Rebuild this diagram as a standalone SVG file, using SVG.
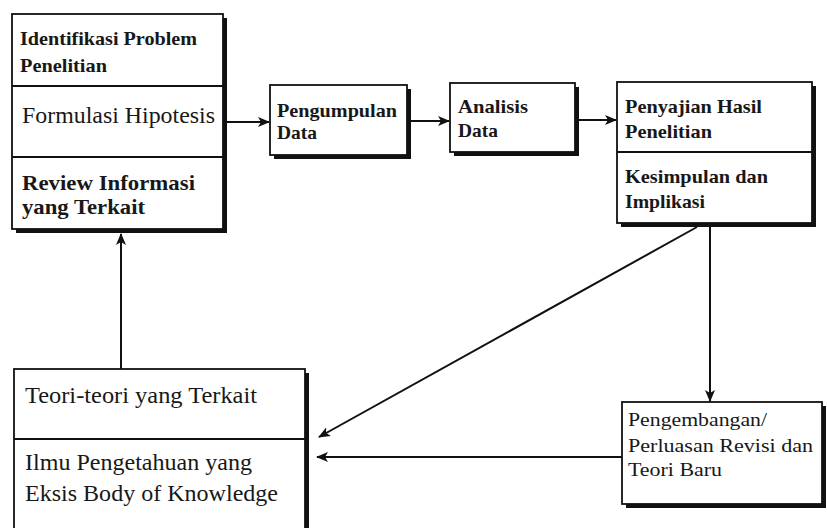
<svg xmlns="http://www.w3.org/2000/svg" width="827" height="528" viewBox="0 0 827 528">
<defs>
<style>
.shadow{fill:#111;}
.box{fill:#fff;stroke:#111;stroke-width:1.8;}
.div{stroke:#111;stroke-width:1.8;}
.conn{stroke:#111;stroke-width:2;fill:none;}
text{font-family:"Liberation Serif","Times New Roman",serif;fill:#181818;}
.b{font-weight:bold;}
</style>
<marker id="ah" viewBox="0 0 12 10" refX="11" refY="5" markerWidth="12" markerHeight="10" markerUnits="userSpaceOnUse" orient="auto">
<path d="M0,0 L12,5 L0,10 L3,5 Z" fill="#111"/>
</marker>
</defs>
<rect width="827" height="528" fill="#fff"/>

<g id="node-research-steps">
<rect class="shadow" x="16" y="18" width="211" height="215"/>
<rect class="box" x="12" y="14" width="211" height="215"/>
<line class="div" x1="12" y1="86" x2="223" y2="86"/>
<line class="div" x1="12" y1="157" x2="223" y2="157"/>
<text class="b" x="20" y="45" font-size="19" textLength="177" lengthAdjust="spacingAndGlyphs">Identifikasi Problem</text>
<text class="b" x="20" y="72" font-size="19" textLength="87" lengthAdjust="spacingAndGlyphs">Penelitian</text>
<text x="22" y="123" font-size="23" textLength="193" lengthAdjust="spacingAndGlyphs">Formulasi Hipotesis</text>
<text class="b" x="22" y="190" font-size="22" textLength="173" lengthAdjust="spacingAndGlyphs">Review Informasi</text>
<text class="b" x="22" y="214" font-size="22" textLength="123" lengthAdjust="spacingAndGlyphs">yang Terkait</text>
</g>

<g id="node-pengumpulan">
<rect class="shadow" x="274" y="89" width="137" height="70"/>
<rect class="box" x="270" y="85" width="137" height="70"/>
<text class="b" x="277" y="117" font-size="19" textLength="120" lengthAdjust="spacingAndGlyphs">Pengumpulan</text>
<text class="b" x="277" y="139" font-size="19" textLength="40" lengthAdjust="spacingAndGlyphs">Data</text>
</g>

<g id="node-analisis">
<rect class="shadow" x="454" y="87" width="125" height="69"/>
<rect class="box" x="450" y="83" width="125" height="69"/>
<text class="b" x="458" y="113" font-size="19" textLength="70" lengthAdjust="spacingAndGlyphs">Analisis</text>
<text class="b" x="458" y="137" font-size="19" textLength="40" lengthAdjust="spacingAndGlyphs">Data</text>
</g>

<g id="node-penyajian">
<rect class="shadow" x="621" y="86" width="195" height="141"/>
<rect class="box" x="617" y="82" width="195" height="141"/>
<line class="div" x1="617" y1="152" x2="812" y2="152"/>
<text class="b" x="625" y="113" font-size="19" textLength="137" lengthAdjust="spacingAndGlyphs">Penyajian Hasil</text>
<text class="b" x="625" y="138" font-size="19" textLength="87" lengthAdjust="spacingAndGlyphs">Penelitian</text>
<text class="b" x="625" y="183" font-size="19" textLength="143" lengthAdjust="spacingAndGlyphs">Kesimpulan dan</text>
<text class="b" x="625" y="208" font-size="19" textLength="80" lengthAdjust="spacingAndGlyphs">Implikasi</text>
</g>

<g id="node-pengembangan">
<rect class="shadow" x="626" y="406" width="200" height="102"/>
<rect class="box" x="622" y="402" width="200" height="102"/>
<text x="628" y="426" font-size="18" textLength="139" lengthAdjust="spacingAndGlyphs">Pengembangan/</text>
<text x="628" y="452" font-size="18" textLength="185" lengthAdjust="spacingAndGlyphs">Perluasan Revisi dan</text>
<text x="628" y="476" font-size="18" textLength="94" lengthAdjust="spacingAndGlyphs">Teori Baru</text>
</g>

<g id="node-teori">
<rect class="shadow" x="18" y="373" width="291" height="170"/>
<rect class="box" x="14" y="369" width="291" height="170"/>
<line class="div" x1="14" y1="439" x2="305" y2="439"/>
<text x="25" y="403" font-size="23" textLength="232" lengthAdjust="spacingAndGlyphs">Teori-teori yang Terkait</text>
<text x="25" y="470" font-size="23" textLength="227" lengthAdjust="spacingAndGlyphs">Ilmu Pengetahuan yang</text>
<text x="25" y="501" font-size="23" textLength="253" lengthAdjust="spacingAndGlyphs">Eksis Body of Knowledge</text>
</g>

<g id="connectors">
<line class="conn" x1="227" y1="122" x2="269" y2="122" marker-end="url(#ah)"/>
<line class="conn" x1="411" y1="121" x2="449" y2="121" marker-end="url(#ah)"/>
<line class="conn" x1="579" y1="120" x2="616" y2="120" marker-end="url(#ah)"/>
<line class="conn" x1="710" y1="227" x2="710" y2="401" marker-end="url(#ah)"/>
<line class="conn" x1="697" y1="227" x2="319" y2="437" marker-end="url(#ah)"/>
<line class="conn" x1="622" y1="457" x2="317" y2="457" marker-end="url(#ah)"/>
<line class="conn" x1="121" y1="369" x2="121" y2="234" marker-end="url(#ah)"/>
</g>
</svg>
